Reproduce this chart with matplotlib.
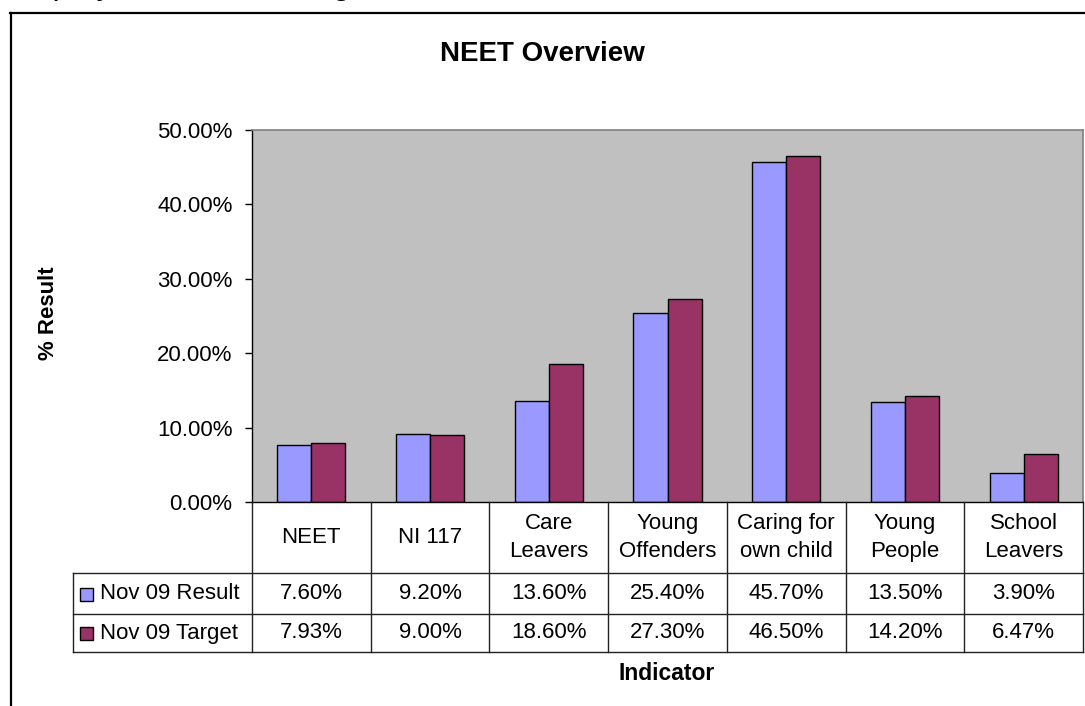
import numpy as np
import matplotlib
matplotlib.use("Agg")
import matplotlib.pyplot as plt
from matplotlib.lines import Line2D
from matplotlib.patches import Rectangle

# данные из таблицы
categories = ["NEET", "NI 117", "Care\nLeavers", "Young\nOffenders",
              "Caring for\nown child", "Young\nPeople", "School\nLeavers"]
result = [7.60, 9.20, 13.60, 25.40, 45.70, 13.50, 3.90]
target = [7.93, 9.00, 18.60, 27.30, 46.50, 14.20, 6.47]
series_names = ["Nov 09 Result", "Nov 09 Target"]
yticks = [0, 10, 20, 30, 40, 50]

blue = "#9999FF"
plum = "#993366"

plt.rcParams['font.family'] = ['Liberation Sans', 'DejaVu Sans']

W, H = 1085, 706
fig = plt.figure(figsize=(W / 100, H / 100), dpi=100)


def fx(px):
    return px / W


def fy(py):
    return 1 - py / H


# обрезанная строка текста сверху
fig.text(fx(3), fy(-6), "Employment or Training", fontsize=23.8,
         ha="left", va="baseline", color="black")

# рамка диаграммы
fig.add_artist(Line2D([fx(10), fx(1090)], [fy(13), fy(13)], color="black", lw=1.6))
fig.add_artist(Line2D([fx(11), fx(11)], [fy(13), fy(710)], color="black", lw=1.6))

left, right, top, bottom = 252, 1083, 130, 502
ax = fig.add_axes([fx(left), fy(bottom), fx(right - left), (bottom - top) / H])
ax.set_facecolor("#C0C0C0")

x = np.arange(len(categories))
bw = 0.287
ax.bar(x - bw / 2, result, bw, color=blue, edgecolor="black", lw=1.0)
ax.bar(x + bw / 2, target, bw, color=plum, edgecolor="black", lw=1.0)

ax.set_xlim(-0.5, len(categories) - 0.5)
ax.set_ylim(0, 50)
ax.set_yticks(yticks)
ax.set_yticklabels(["%.2f%%" % v for v in yticks], fontsize=16)
ax.tick_params(axis="y", direction="out", length=5, width=1, pad=9)
ax.set_xticks([])
for s in ["top", "right"]:
    ax.spines[s].set_color("#808080")
    ax.spines[s].set_linewidth(1.2)
for s in ["left", "bottom"]:
    ax.spines[s].set_color("black")
    ax.spines[s].set_linewidth(1.0)

fig.text(fx(542), fy(54), "NEET Overview", fontsize=20, fontweight="bold",
         ha="center", va="center")
fig.text(fx(49), fy(313), "% Result", fontsize=16, fontweight="bold",
         ha="center", va="center", rotation=90)
fig.text(fx(667), fy(673), "Indicator", fontsize=16.5, fontweight="bold",
         ha="center", va="center")

# таблица данных под осью
r1, r2, r3 = 573, 614, 652
cw = (right - left) / len(categories)
lc = "#222222"
lkw = dict(color=lc, lw=1.0)
for k in range(len(categories) + 1):
    xx = left + k * cw
    fig.add_artist(Line2D([fx(xx), fx(xx)], [fy(bottom), fy(r3)], **lkw))
fig.add_artist(Line2D([fx(73), fx(right)], [fy(r1), fy(r1)], **lkw))
fig.add_artist(Line2D([fx(73), fx(right)], [fy(r2), fy(r2)], **lkw))
fig.add_artist(Line2D([fx(73), fx(right)], [fy(r3), fy(r3)], **lkw))
fig.add_artist(Line2D([fx(73), fx(73)], [fy(r1), fy(r3)], **lkw))

rows = [(result, blue, (r1 + r2) / 2), (target, plum, (r2 + r3) / 2)]
for (vals, col, yc), name in zip(rows, series_names):
    fig.add_artist(Rectangle((fx(80), fy(yc + 7)), fx(13), 13 / H,
                             facecolor=col, edgecolor="black", lw=1.0))
    fig.text(fx(100), fy(yc), name, fontsize=16, ha="left", va="center")
    for k, v in enumerate(vals):
        fig.text(fx(left + (k + 0.5) * cw), fy(yc), "%.2f%%" % v,
                 fontsize=16, ha="center", va="center")

for k, c in enumerate(categories):
    fig.text(fx(left + (k + 0.5) * cw), fy((bottom + r1) / 2), c,
             fontsize=16, ha="center", va="center", linespacing=1.45)

fig.savefig("out.png", dpi=100)
